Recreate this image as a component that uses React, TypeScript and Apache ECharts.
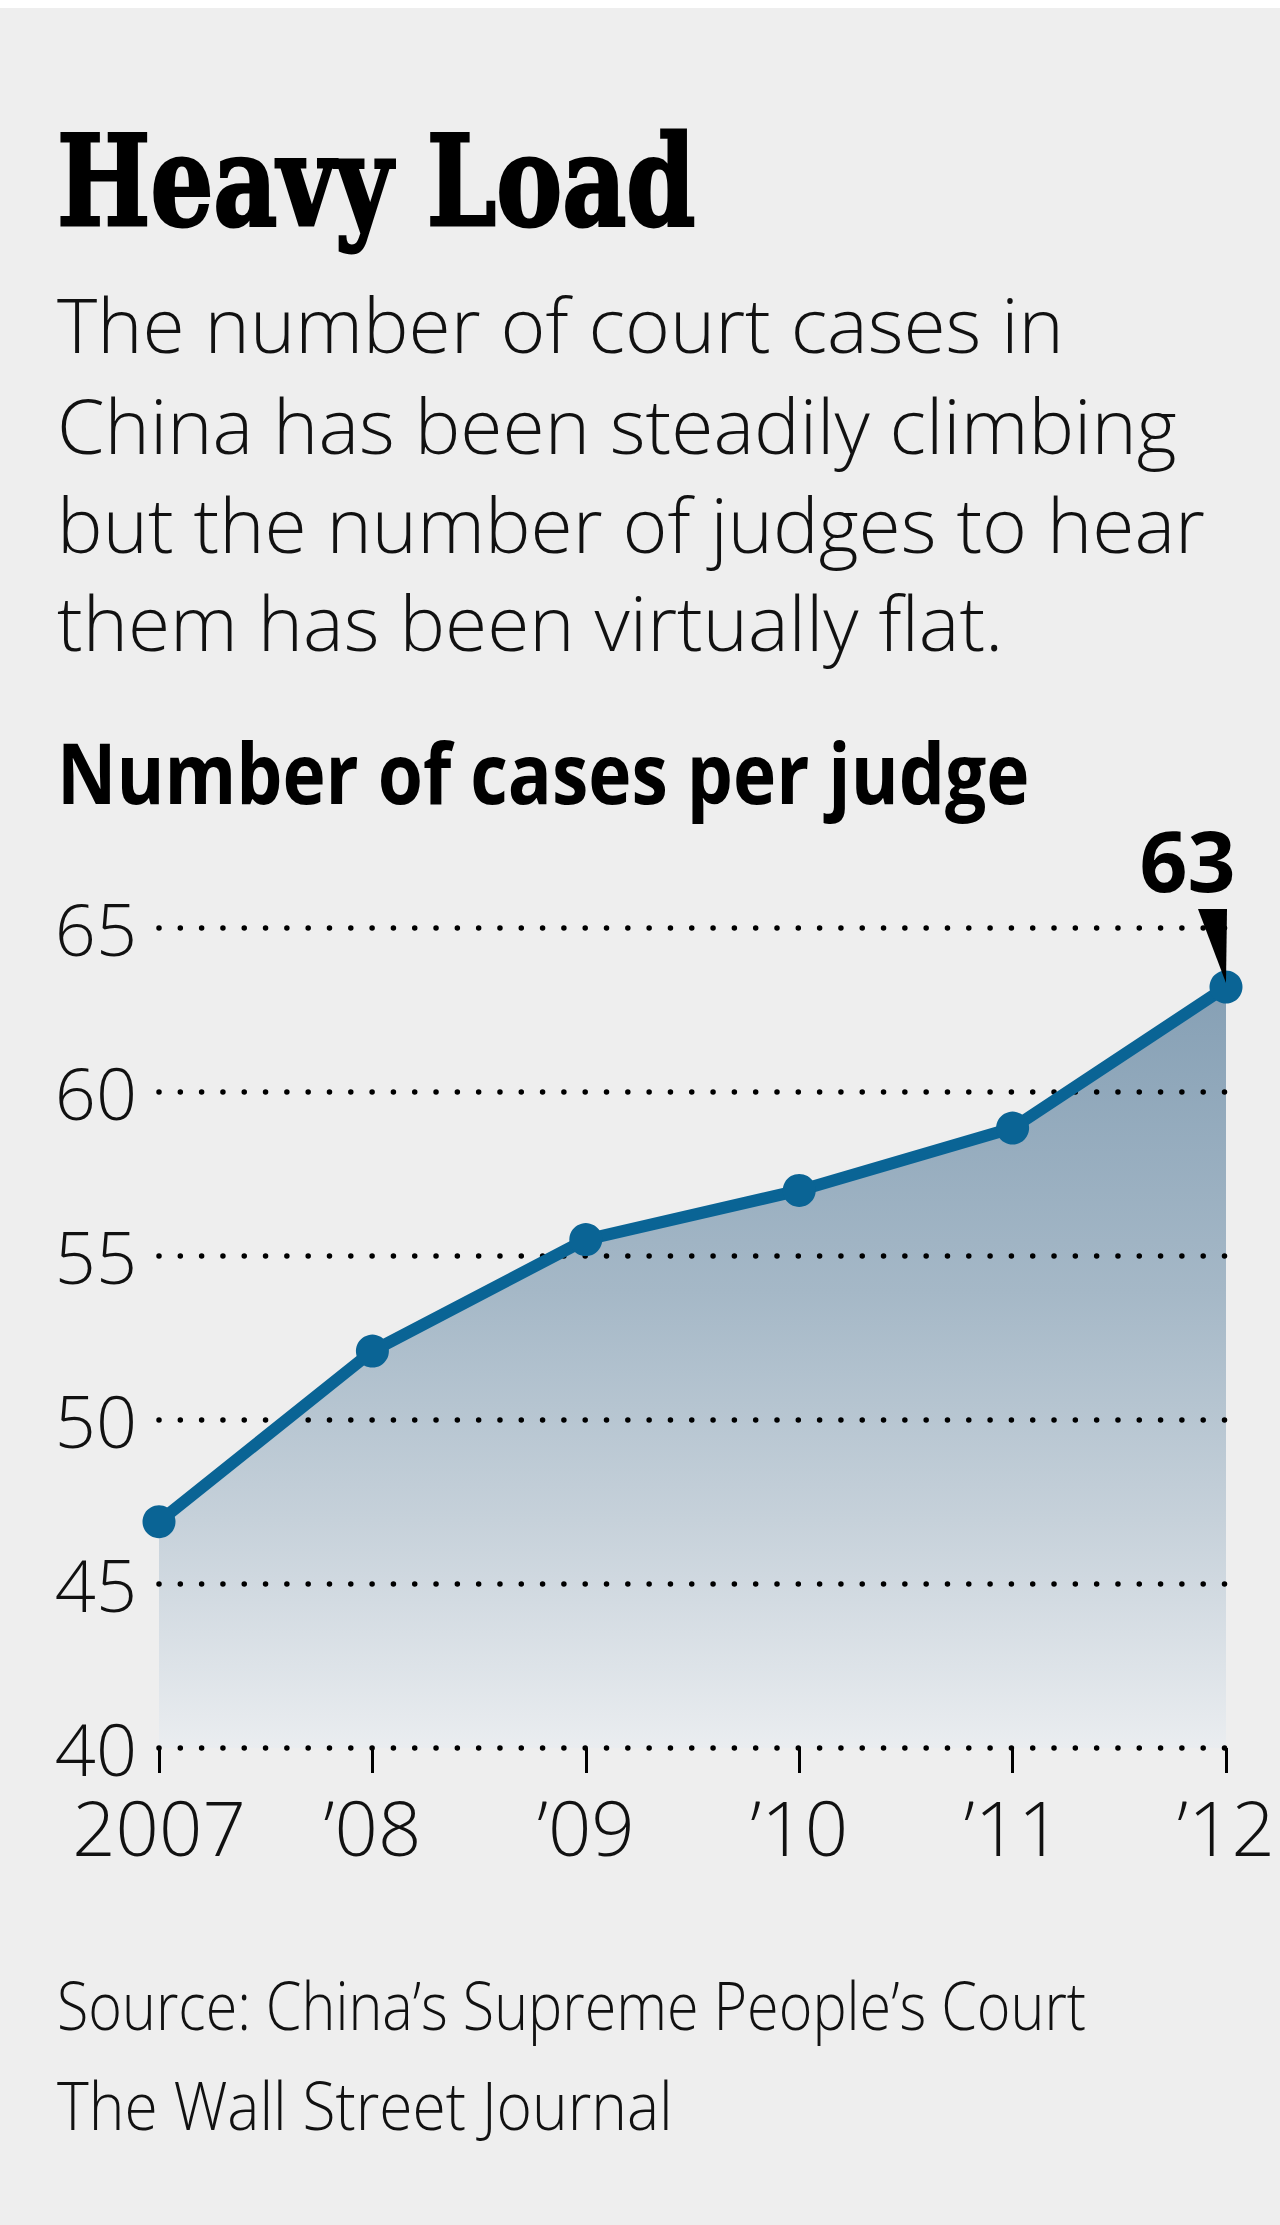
import React, { useEffect, useRef } from "react";
import * as echarts from "echarts";

// ---- data ----
const years = ["2007", "\u201908", "\u201909", "\u201910", "\u201911", "\u201912"];
const casesPerJudge = [46.9, 52.1, 55.5, 57.0, 58.9, 63.2];
const yMin = 40;
const yMax = 65;
const yInterval = 5;

// ---- texts ----
const titleText = "Heavy Load";
const subtitleLines = [
  "The number of court cases in",
  "China has been steadily climbing",
  "but the number of judges to hear",
  "them has been virtually flat.",
];
const unitText = "Number of cases per judge";
const sourceLines = ["Source: China\u2019s Supreme People\u2019s Court", "The Wall Street Journal"];

const LIGHT = "Open Sans";
const LINE_COLOR = "#0a6495";

function measure(text: string, font: string): number {
  const ctx = document.createElement("canvas").getContext("2d");
  if (!ctx) return text.length * 30;
  ctx.font = font;
  return ctx.measureText(text).width;
}

function fitText(
  text: string,
  x: number,
  y: number,
  family: string,
  size: number,
  weight: number | string,
  targetW: number,
  color = "#111",
  strokeW = 0
) {
  const w = measure(text, `${weight} ${size}px "${family}"`);
  const style: any = {
    text,
    x: 0,
    y: 0,
    fontFamily: family,
    fontSize: size,
    fontWeight: weight,
    fill: color,
    align: "left",
    verticalAlign: "middle",
  };
  if (strokeW > 0) {
    style.stroke = color;
    style.lineWidth = strokeW;
  }
  return {
    type: "text",
    x,
    y,
    scaleX: targetW / (w + strokeW),
    silent: true,
    style,
  };
}

export default function App() {
  const ref = useRef<HTMLDivElement>(null);

  useEffect(() => {
    if (!ref.current) return;
    const chart = echarts.init(ref.current, undefined, { renderer: "svg" });

    const subTargets = [1004, 1118, 1139, 962];
    const subSize = 75;
    const subWeight = 300;
    let sumT = 0;
    let sumM = 0;
    subtitleLines.forEach((l, i) => {
      sumT += subTargets[i];
      sumM += measure(l, `${subWeight} ${subSize}px "${LIGHT}"`);
    });
    const subScale = sumT / sumM;
    const subY = [316, 417, 516, 614];

    const graphics: any[] = [
      fitText(titleText, 57, 173, "DejaVu Serif", 126, "bold", 641, "#000", 3),
      ...subtitleLines.map((l, i) => ({
        type: "text",
        x: 57,
        y: subY[i],
        scaleX: subScale,
        silent: true,
        style: {
          text: l,
          fontFamily: LIGHT,
          fontSize: subSize,
          fontWeight: subWeight,
          fill: "#111",
          align: "left",
          verticalAlign: "middle",
        },
      })),
      fitText(unitText, 57, 763, LIGHT, 84, 700, 972, "#000"),
      fitText(sourceLines[0], 57, 1996, LIGHT, 67, 300, 1029),
      fitText(sourceLines[1], 57, 2096, LIGHT, 67, 300, 616),
    ];

    chart.setOption({
      animation: false,
      backgroundColor: "#eeeeee",
      grid: { left: 159, right: 54, top: 920, bottom: 477, containLabel: false },
      xAxis: {
        type: "category",
        data: years,
        boundaryGap: false,
        z: 2,
        axisLine: { show: false },
        axisTick: {
          show: true,
          interval: 0,
          length: 25,
          lineStyle: { color: "#000", width: 3 },
        },
        axisLabel: {
          interval: 0,
          color: "#111",
          fontFamily: LIGHT,
          fontWeight: 300,
          fontSize: 76,
          lineHeight: 58,
          margin: 49,
        },
        splitLine: { show: false },
      },
      yAxis: {
        type: "value",
        min: yMin,
        max: yMax,
        interval: yInterval,
        z: 2,
        axisLine: { show: false },
        axisTick: { show: false },
        axisLabel: {
          color: "#111",
          fontFamily: LIGHT,
          fontWeight: 300,
          fontSize: 72,
          lineHeight: 52,
          margin: 22,
        },
        splitLine: {
          show: true,
          lineStyle: { color: "#000", width: 5.5, type: [0.01, 21.3], cap: "round" },
        },
      },
      graphic: graphics,
      series: [
        {
          // shaded area, drawn beneath the dotted grid
          type: "line",
          z: 1,
          data: casesPerJudge,
          symbol: "none",
          silent: true,
          lineStyle: { width: 0, opacity: 0 },
          areaStyle: {
            origin: "start",
            opacity: 1,
            color: new echarts.graphic.LinearGradient(0, 0, 0, 1, [
              { offset: 0, color: "#86a0b5" },
              { offset: 0.4, color: "#a5b8c7" },
              { offset: 0.7, color: "#c6d1da" },
              { offset: 1, color: "#eaedf0" },
            ]),
          },
        },
        {
          // line + markers above the grid
          type: "line",
          z: 3,
          data: casesPerJudge,
          symbol: "circle",
          symbolSize: 33,
          showAllSymbol: true,
          lineStyle: { color: LINE_COLOR, width: 12 },
          itemStyle: { color: LINE_COLOR },
          markPoint: {
            symbol: "path://M0,0 L29,0 L28,74 Z",
            symbolSize: [29, 74],
            symbolOffset: [-13.5, -41],
            itemStyle: { color: "#000" },
            label: {
              show: true,
              position: "top",
              distance: 8,
              offset: [-25, 0],
              color: "#000",
              fontFamily: LIGHT,
              fontWeight: 700,
              fontSize: 84,
              lineHeight: 84,
              formatter: (p: any) => String(Math.round(p.value)),
            },
            data: [{ type: "max" }],
          },
        },
      ],
    });

    return () => chart.dispose();
  }, []);

  return (
    <div
      ref={ref}
      style={{ position: "absolute", left: 0, top: 8, width: 1280, height: 2217 }}
    />
  );
}
